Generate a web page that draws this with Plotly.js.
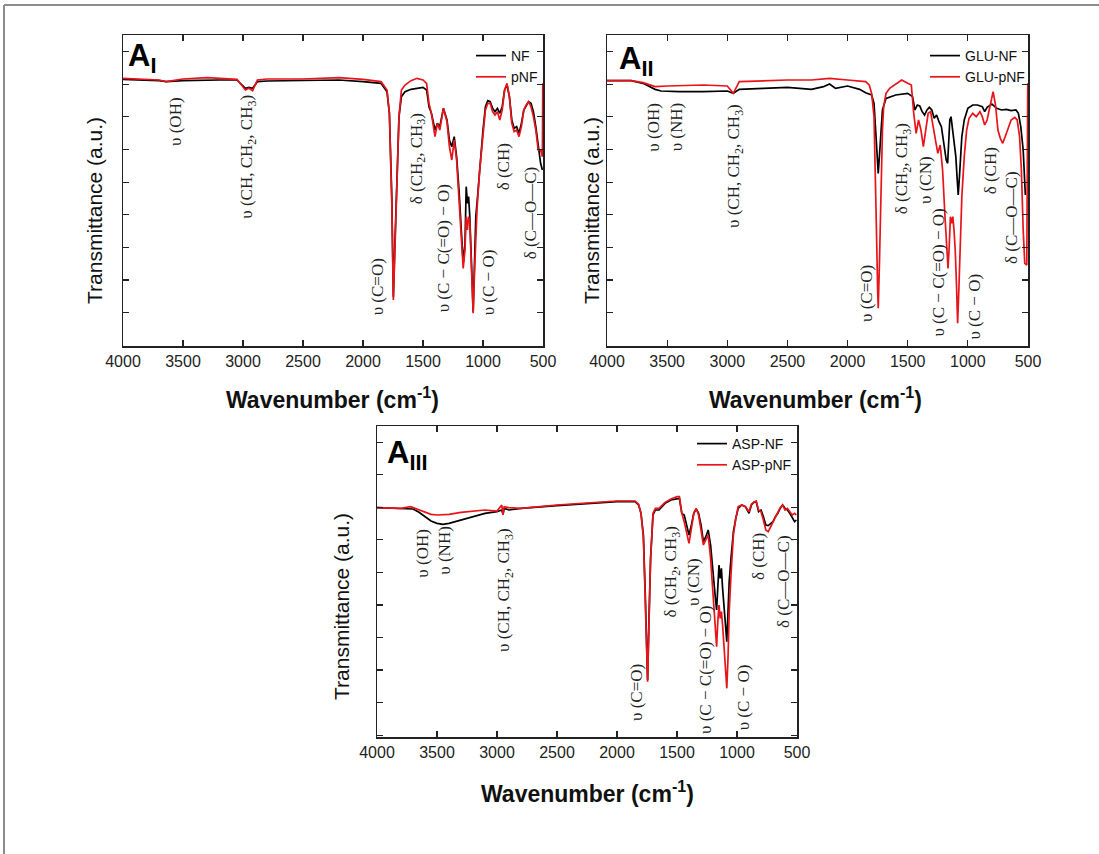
<!DOCTYPE html>
<html><head><meta charset="utf-8">
<script src="https://cdn.plot.ly/plotly-3.0.1.min.js"></script>
<style>html,body{margin:0;padding:0;background:#fff}#chart{width:1099px;height:854px}</style>
</head><body><div id="chart"></div>
<script>
// ---------- DATA (wavenumber cm-1, transmittance a.u.) ----------
const wnI_NF = [4000,3800,3700,3640,3500,3200,3050,2980,2950,2920,2880,2800,2500,2200,2000,1850,1800,1780,1760,1747,1735,1720,1700,1680,1650,1600,1500,1470,1450,1430,1400,1380,1360,1330,1300,1280,1260,1240,1220,1200,1180,1165,1150,1140,1130,1120,1110,1100,1090,1082,1070,1060,1050,1030,1000,980,960,940,920,900,880,860,840,820,800,780,760,740,720,700,680,660,640,620,600,580,560,540,520,505];
const tI_NF = [85.2,85.0,84.8,84.5,84.8,85.0,85.0,82.5,82.8,82.5,84.5,84.7,84.8,85.0,84.5,84.0,81.5,75.0,50.0,20.0,35,50,74,80,81.5,82.2,82.8,82.0,77.0,75.0,70.0,72.0,71.0,76.5,73.0,67.0,65.0,68.0,62.0,52.0,40.0,30.0,36.0,53.0,48.0,50.0,44.0,36.0,24.0,15.5,30.0,44.0,48.0,58.0,70.0,77.0,78.8,78.5,76.5,75.5,76.5,75.0,77.0,82.0,83.5,80.0,73.0,70.5,71.0,69.0,72.0,76.0,77.5,78.5,78.0,75.5,71.0,65.0,60.0,58.0];
const wnI_pNF = [4000,3800,3700,3640,3500,3300,3050,2980,2950,2920,2880,2800,2500,2200,2000,1850,1800,1780,1760,1747,1735,1720,1700,1680,1650,1600,1550,1500,1470,1450,1430,1400,1380,1360,1330,1300,1280,1260,1240,1220,1200,1180,1165,1150,1140,1130,1120,1110,1100,1090,1082,1070,1060,1050,1030,1000,980,960,940,920,900,880,860,840,820,800,780,760,740,720,700,680,660,640,620,600,580,560,540,520,505,502];
const tI_pNF = [85.5,85.2,85.0,84.5,85.3,85.7,85.2,82.0,82.5,81.8,85.0,85.3,85.3,85.7,85.2,84.5,82,75,48,19,33,48,74,82,83.5,84.8,85.5,85,84,78,75,68,72,70,76.5,72.5,65,61,67,61,50,38,28.5,34,44,40,44,42,34,22,15,28,40,46,57,69,76,78,78,75.5,74.5,75.5,73,76,82,84,80,72,69.5,70,68,71,76,77.5,78.5,77,74,70,64,64,62,84];

const wnII_NF = [4000,3800,3700,3650,3600,3550,3400,3200,3000,2950,2900,2700,2500,2300,2200,2150,2100,2000,1900,1850,1800,1780,1760,1745,1730,1710,1680,1600,1500,1460,1440,1420,1400,1380,1360,1340,1320,1300,1280,1260,1240,1220,1200,1180,1168,1160,1150,1140,1130,1120,1110,1100,1090,1080,1070,1060,1050,1030,1000,960,920,880,860,840,800,760,720,680,640,600,580,560,540,522];
const tII_NF = [84.8,84.8,84.0,83.0,82.2,81.7,81.5,81.5,81.7,81.0,82.2,82.5,82.8,82.2,83.0,83.8,82.5,83.2,82.2,81.2,80.5,78,67,57,65,76,79.5,80.5,81,80,76,77.5,77.2,75.5,74.5,76,76.8,76,73.5,74.5,72.5,71,66,61,60,67,73,74,71,67,65,62,56,50.5,56,62,68,73,76.5,77.5,77.5,77,75.5,76.8,77.8,76.5,76,76.2,75.8,76,75,71,64,50.5];
const wnII_pNF = [4000,3800,3700,3650,3600,3500,3200,3000,2950,2900,2700,2500,2300,2150,2000,1900,1850,1820,1800,1780,1770,1760,1750,1745,1735,1720,1710,1700,1680,1650,1600,1550,1500,1470,1450,1430,1410,1390,1370,1350,1330,1310,1290,1270,1250,1230,1210,1190,1175,1165,1155,1145,1135,1125,1115,1105,1095,1085,1075,1065,1050,1030,1010,990,960,930,900,880,860,840,810,790,770,750,730,710,690,670,640,610,590,570,555,540,527,510,502];
const tII_pNF = [84.8,84.8,84.2,83.5,83.0,83.2,83.5,83.2,81.0,84.5,84.8,85.0,85.0,85.5,85.0,84.8,84.5,83.5,81,74,60,40,22,16.5,30,55,70,77,81,82.5,83.8,85,84,83.5,75,69,73,70,65,70,75,75.5,71,67,63,65.5,58,44,34,28.5,35,44,42,44,40,34,24,12,22,35,50,62,70,73.5,75,74,75.5,74,71.5,73,78,81.5,77.5,70,67.5,66,68,70,73,73.8,73,68,58,40,30,29.5,84];

const wnIII_NF = [4000,3800,3700,3650,3600,3550,3500,3450,3400,3300,3200,3100,3000,2960,2950,2940,2900,2800,2500,2200,2000,1850,1820,1800,1780,1765,1755,1745,1735,1720,1700,1680,1650,1600,1550,1500,1480,1460,1440,1420,1400,1380,1360,1340,1320,1300,1280,1260,1240,1220,1200,1180,1170,1160,1150,1140,1130,1120,1110,1100,1090,1085,1075,1065,1050,1030,1010,990,960,930,900,880,860,840,820,800,780,760,740,720,700,680,660,640,620,600,580,560,540,520,505];
const tIII_NF = [75.2,75.0,74.8,73.8,72.5,71.2,70.5,70.2,70.5,71.5,72.5,73.5,74.0,74.5,73.2,75.0,74.5,75.0,75.8,76.5,77.0,77.0,76.0,73.5,67,50,36,23.5,40,60,73,74.5,74.5,76.5,77.5,77.8,78,73.5,73,70,67,70,73.5,74.8,73.5,70,65,66.5,68.5,64,55,48,44.5,52,58,54,57,51,46,40,36,35,44,53,60,68,72,75,76,75.5,73.5,76,76.8,77,74,74.5,72.5,70,69.8,70.5,71,72.5,73.5,75,76,75,74.5,73.5,72,71,71.5];
const wnIII_pNF = [4000,3800,3720,3650,3600,3550,3500,3400,3300,3200,3100,3000,2960,2950,2940,2900,2800,2500,2200,2000,1850,1820,1800,1780,1765,1755,1745,1735,1720,1700,1680,1650,1600,1550,1500,1480,1460,1440,1420,1400,1380,1360,1340,1320,1300,1280,1260,1240,1220,1200,1180,1170,1160,1150,1140,1130,1120,1110,1100,1090,1085,1075,1065,1050,1030,1010,990,960,930,900,880,860,840,820,800,780,760,740,720,700,680,660,640,620,600,580,560,540,520,505];
const tIII_pNF = [75.2,75.0,75.5,74.5,73.8,73.2,73.0,73.2,73.8,74.2,74.5,74.2,76.0,73.0,75.5,75.2,75.0,76.0,76.8,77.2,77.2,76.2,73.5,66,48,32,23,38,60,73.5,75,75,76.8,77.8,78.5,78.5,73.5,71,68,64.5,69,73.5,75,73,68.5,64,65.5,67,60,50,40,33.5,41,46,42,44,40,35,29,24,21,30,44,55,67,72,75.5,76,75.5,74,76.2,76.8,77.2,74.5,74,71.5,68.5,68,69.5,70.5,72.5,73.8,75.2,76,74.5,75,74,73,73.5,73];

const seriesNames = [["NF","pNF"],["GLU-NF","GLU-pNF"],["ASP-NF","ASP-pNF"]];
const panelLabels = ["A<sub>I</sub>","A<sub>II</sub>","A<sub>III</sub>"];
const xTicks = [4000,3500,3000,2500,2000,1500,1000,500];
const xTitle = "<b>Wavenumber (cm<sup>-1</sup>)</b>";
const yTitle = "Transmittance (a.u.)";

// peak labels: [text, wavenumber, transmittance]
const peaksI = [["υ (OH)",3567,72.7],["υ (CH, CH<sub>2</sub>, CH<sub>3</sub>)",2958,62],["υ (C=O)",1883,22.8],["δ (CH<sub>2</sub>, CH<sub>3</sub>)",1542,61.5],["υ (C − C(=O) − O)",1333,34.5],["υ (C − O)",958,24.3],["δ (CH)",833,58.8],["δ (C—O—C)",608,45]];
const peaksII = [["υ (OH)",3615,70.8],["υ (NH)",3421,71],["υ (CH, CH<sub>2</sub>, CH<sub>3</sub>)",2936,59.2],["υ (C=O)",1841,21],["δ (CH<sub>2</sub>, CH<sub>3</sub>)",1537,58.3],["υ (CN)",1356,55],["υ (C − C(=O) − O)",1246,27.3],["υ (C − O)",941,17],["δ (CH)",816,57.9],["δ (C—O—C)",636,43.8]];
const peaksIII = [["υ (OH)",3628,61.6],["υ (NH)",3433,62.3],["υ (CH, CH<sub>2</sub>, CH<sub>3</sub>)",2933,50.5],["υ (C=O)",1836,19.8],["δ (CH<sub>2</sub>, CH<sub>3</sub>)",1544,56],["υ (CN)",1364,53],["υ (C − C(=O) − O)",1267,26.5],["υ (C − O)",947,18.4],["δ (CH)",822,60.5],["δ (C—O—C)",614,53]];

// ---------- LAYOUT ----------
const W = 1099, H = 854;
const px = x => x / W, py = y => 1 - y / H;
const SANS = "Liberation Sans, Arial, sans-serif";
const SERIF = "Liberation Serif, Times New Roman, serif";
const BLACK = "#000000", RED = "#e8141a";

const panels = [
  {l:123, r:543, t:35, b:346, yr:[5.2,98.5], tick0:15.2, dtick:9.79, wn:[wnI_NF,wnI_pNF], tv:[tI_NF,tI_pNF], peaks:peaksI,
   leg:{x:543, y:40, size:14}, lab:{x:126, y:58}, xt:{x:332, y:398}, yt:{x:95, y:211}},
  {l:607, r:1028, t:35, b:346, yr:[5.2,98.5], tick0:15.2, dtick:9.79, wn:[wnII_NF,wnII_pNF], tv:[tII_NF,tII_pNF], peaks:peaksII,
   leg:{x:1030, y:40, size:14}, lab:{x:617, y:61}, xt:{x:815, y:398}, yt:{x:592, y:211}},
  {l:377, r:797, t:426, b:737, yr:[6.4,99.7], tick0:16.7, dtick:9.77, wn:[wnIII_NF,wnIII_pNF], tv:[tIII_NF,tIII_pNF], peaks:peaksIII,
   leg:{x:797, y:428, size:14}, lab:{x:385, y:455}, xt:{x:587, y:792}, yt:{x:341, y:607}}
];

const data = [];
const layout = {
  width: W, height: H, margin: {l:0, r:0, t:0, b:0},
  paper_bgcolor: "#ffffff", plot_bgcolor: "#ffffff",
  font: {family: SANS, color: "#111"},
  annotations: [], shapes: [
    {type:"line", xref:"paper", yref:"paper", x0:px(4), x1:1, y0:py(5), y1:py(5), line:{color:"#8c8c8c", width:2}},
    {type:"line", xref:"paper", yref:"paper", x0:px(4), x1:px(4), y0:py(5), y1:0, line:{color:"#8c8c8c", width:2}}
  ]
};

panels.forEach((p, i) => {
  const n = i === 0 ? "" : String(i + 1);
  const xa = "x" + n, ya = "y" + n;
  const legName = i === 0 ? "legend" : "legend" + (i + 1);
  [0, 1].forEach(k => {
    data.push({
      type: "scatter", mode: "lines", x: p.wn[k], y: p.tv[k], name: seriesNames[i][k],
      xaxis: xa, yaxis: ya, legend: legName,
      line: {color: k === 0 ? BLACK : RED, width: 1.7}
    });
  });
  layout["xaxis" + n] = {
    domain: [px(p.l), px(p.r)], anchor: ya, range: [4000, 500],
    showline: true, mirror: "ticks", linecolor: "#222", linewidth: 1.5,
    ticks: "inside", ticklen: 6, tickwidth: 1.2, tickcolor: "#222",
    tickmode: "array", tickvals: xTicks, ticktext: xTicks.map(String),
    tickfont: {family: SANS, size: 16, color: "#222"},
    showgrid: false, zeroline: false, fixedrange: true
  };
  layout["yaxis" + n] = {
    domain: [py(p.b), py(p.t)], anchor: xa, range: p.yr,
    showline: true, mirror: "ticks", linecolor: "#222", linewidth: 1.5,
    ticks: "inside", ticklen: 6, tickwidth: 1.2, tickcolor: "#222",
    tickmode: "linear", tick0: p.tick0, dtick: p.dtick, showticklabels: false,
    showgrid: false, zeroline: false, fixedrange: true
  };
  layout[legName] = {
    x: px(p.leg.x), xanchor: "right", y: py(p.leg.y), yanchor: "top",
    bgcolor: "rgba(0,0,0,0)", borderwidth: 0, itemwidth: 30,
    font: {family: SANS, size: p.leg.size, color: "#111"}, tracegroupgap: 0
  };
  layout.annotations.push({xref:"paper", yref:"paper", x:px(p.lab.x), y:py(p.lab.y), xanchor:"left", yanchor:"middle",
    text:"<b>" + panelLabels[i] + "</b>", showarrow:false, font:{family:SANS, size:31, color:"#000"}});
  layout.annotations.push({xref:"paper", yref:"paper", x:px(p.xt.x), y:py(p.xt.y), xanchor:"center", yanchor:"middle",
    text:xTitle, showarrow:false, font:{family:SANS, size:23, color:"#111"}});
  layout.annotations.push({xref:"paper", yref:"paper", x:px(p.yt.x), y:py(p.yt.y), xanchor:"center", yanchor:"middle",
    text:yTitle, textangle:-90, showarrow:false, font:{family:SANS, size:21, color:"#111"}});
  p.peaks.forEach(pk => {
    layout.annotations.push({xref:xa, yref:ya, x:pk[1], y:pk[2], xanchor:"center", yanchor:"middle",
      text:pk[0], textangle:-90, showarrow:false, font:{family:SERIF, size:17, color:"#222"}});
  });
});

Plotly.newPlot("chart", data, layout, {staticPlot:true, displayModeBar:false});
</script></body></html>
